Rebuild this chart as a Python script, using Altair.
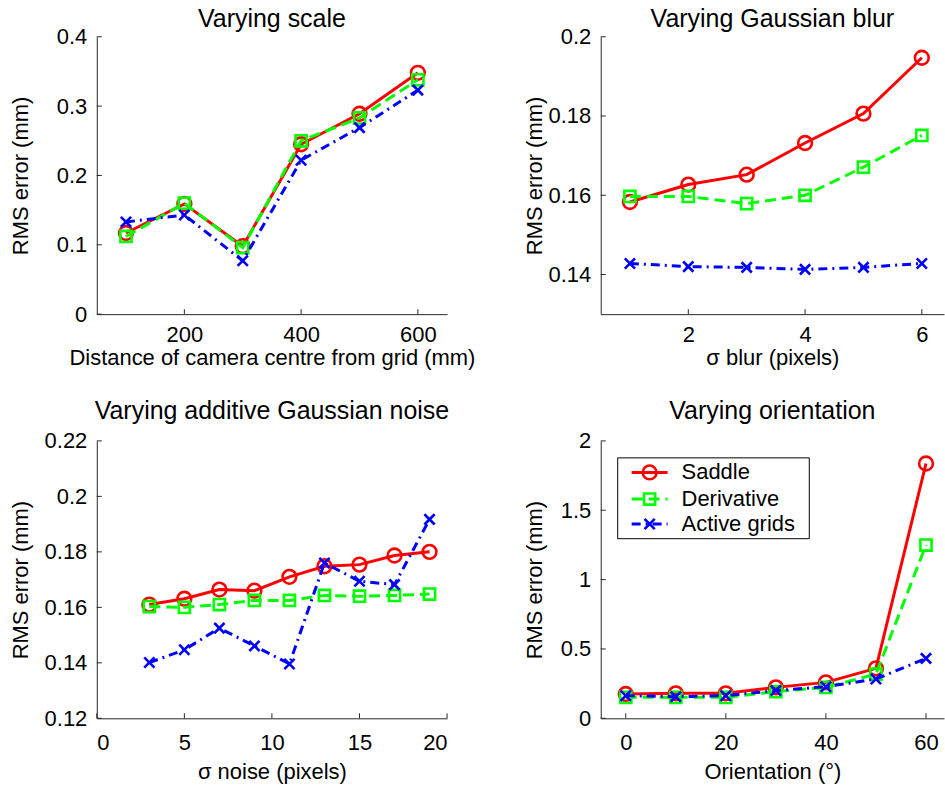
import altair as alt
import pandas as pd

FONT = "Liberation Sans"
AXC = "#262626"

SERIES = ["Saddle", "Derivative", "Active grids"]
COLORS = ["#ff0000", "#00ff00", "#0000ff"]
DASHES = [None, [11, 6], [9, 5, 2, 5]]
X_SHAPE = "M-1,-1L1,1M-1,1L1,-1"
SHAPES = ["circle", "square", X_SHAPE]
SIZES = [190, 125, 105]

# Panel 1: varying scale
scale_x = [100, 200, 300, 400, 500, 600]
scale_saddle = [0.117, 0.159, 0.098, 0.245, 0.289, 0.348]
scale_deriv = [0.112, 0.160, 0.096, 0.250, 0.283, 0.338]
scale_active = [0.133, 0.143, 0.077, 0.222, 0.269, 0.323]

# Panel 2: varying Gaussian blur
blur_x = [1, 2, 3, 4, 5, 6]
blur_saddle = [0.1583, 0.1627, 0.1652, 0.1732, 0.1806, 0.1947]
blur_deriv = [0.1597, 0.1597, 0.1579, 0.1600, 0.1671, 0.1751]
blur_active = [0.1428, 0.1420, 0.1418, 0.1413, 0.1418, 0.1428]

# Panel 3: varying additive Gaussian noise
noise_x = [3, 5, 7, 9, 11, 13, 15, 17, 19]
noise_saddle = [0.1610, 0.1631, 0.1664, 0.1660, 0.1710, 0.1748, 0.1754, 0.1787, 0.1800]
noise_deriv = [0.1603, 0.1600, 0.1610, 0.1625, 0.1625, 0.1643, 0.1640, 0.1643, 0.1648]
noise_active = [0.1401, 0.1447, 0.1525, 0.1461, 0.1396, 0.1760, 0.1694, 0.1682, 0.1917]

# Panel 4: varying orientation
orient_x = [0, 10, 20, 30, 40, 50, 60]
orient_saddle = [0.175, 0.180, 0.180, 0.223, 0.259, 0.360, 1.837]
orient_deriv = [0.151, 0.151, 0.151, 0.192, 0.223, 0.319, 1.249]
orient_active = [0.163, 0.156, 0.163, 0.200, 0.228, 0.283, 0.432]

H = 278
WL = 351
WR = 344
LEGEND_ROWS = [31.6, 58.3, 83.3]
LABEL_EXPR = "'' + datum.value"


def panel(title, xs, ys_list, xdom, xticks, xtitle, ydom, yticks, width, ytitle_x,
          title_offset, xlab_pad, xtitle_pad, legend=False):
    xscale = alt.Scale(domain=xdom, nice=False, zero=False)
    yscale = alt.Scale(domain=ydom, nice=False, zero=False)
    xaxis = alt.Axis(values=xticks, title=xtitle, labelExpr=LABEL_EXPR, ticks=False, grid=False,
                     labelPadding=xlab_pad, titlePadding=xtitle_pad)
    yaxis = alt.Axis(values=yticks, title="RMS error (mm)", labelExpr=LABEL_EXPR, ticks=False, grid=False,
                     labelPadding=10, titleX=ytitle_x, titleBaseline="middle")
    layers = []
    for name, ys, color, dash, shape, size in zip(SERIES, ys_list, COLORS, DASHES, SHAPES, SIZES):
        df = pd.DataFrame({"x": xs, "y": ys, "series": name})
        base = alt.Chart(df).encode(
            x=alt.X("x:Q", scale=xscale, axis=xaxis),
            y=alt.Y("y:Q", scale=yscale, axis=yaxis),
        )
        lkw = dict(color=color, strokeWidth=3)
        if dash:
            lkw["strokeDash"] = dash
        layers.append(base.mark_line(**lkw))
        layers.append(base.mark_point(shape=shape, size=size, color=color, strokeWidth=2.6,
                                      filled=False, opacity=1))
    xt = alt.Chart(pd.DataFrame({"v": xticks})).mark_rule(color=AXC, strokeWidth=1).encode(
        x=alt.X("v:Q", scale=xscale, axis=xaxis), y=alt.value(H), y2=alt.value(H - 5))
    yt = alt.Chart(pd.DataFrame({"v": yticks})).mark_rule(color=AXC, strokeWidth=1).encode(
        y=alt.Y("v:Q", scale=yscale, axis=yaxis), x=alt.value(0), x2=alt.value(5))
    layers = [xt, yt] + layers
    if legend:
        box = alt.Chart(pd.DataFrame({"a": [0]})).mark_rect(
            fill="white", stroke="black", strokeWidth=1).encode(
            x=alt.value(17), x2=alt.value(209), y=alt.value(17), y2=alt.value(98))
        layers.append(box)
        for name, color, dash, shape, size, yr in zip(SERIES, COLORS, DASHES, SHAPES, SIZES, LEGEND_ROWS):
            ldf = pd.DataFrame({"label": [name]})
            rkw = dict(color=color, strokeWidth=3)
            if dash:
                rkw["strokeDash"] = dash
            layers.append(alt.Chart(ldf).mark_rule(**rkw).encode(
                x=alt.value(31), x2=alt.value(67), y=alt.value(yr)))
            layers.append(alt.Chart(ldf).mark_point(shape=shape, size=size, color=color,
                                                    strokeWidth=2.6, filled=False, opacity=1).encode(
                x=alt.value(49), y=alt.value(yr)))
            layers.append(alt.Chart(ldf).mark_text(align="left", baseline="middle", fontSize=22,
                                                   font=FONT, color="black").encode(
                x=alt.value(81), y=alt.value(yr), text="label:N"))
    return alt.layer(*layers).properties(
        width=width, height=H,
        title=alt.TitleParams(text=title, fontSize=25, font=FONT, fontWeight="normal",
                              color="black", frame="group", anchor="middle", offset=title_offset),
    )


p1 = panel("Varying scale", scale_x, [scale_saddle, scale_deriv, scale_active],
           [50, 650], [200, 400, 600], "Distance of camera centre from grid (mm)",
           [0, 0.4], [0, 0.1, 0.2, 0.3, 0.4], WL, -76, -6, 10, 2)
p2 = panel("Varying Gaussian blur", blur_x, [blur_saddle, blur_deriv, blur_active],
           [0.5, 6.38], [2, 4, 6], "σ blur (pixels)",
           [0.13, 0.2], [0.14, 0.16, 0.18, 0.2], WR, -66, -6, 10, 2)
p3 = panel("Varying additive Gaussian noise", noise_x, [noise_saddle, noise_deriv, noise_active],
           [0, 20], [0, 5, 10, 15, 20], "σ noise (pixels)",
           [0.12, 0.22], [0.12, 0.14, 0.16, 0.18, 0.2, 0.22], WL, -76, 6, 14, 8)
p4 = panel("Varying orientation", orient_x, [orient_saddle, orient_deriv, orient_active],
           [-5, 63.6], [0, 20, 40, 60], "Orientation (°)",
           [0, 2], [0, 0.5, 1, 1.5, 2], WR, -66, 6, 14, 8, legend=True)

chart = alt.concat(p1, p2, p3, p4, columns=2,
                   spacing=alt.RowColnumber(row=127, column=154)).properties(
    bounds="flush",
    padding={"left": 9, "top": 5, "right": 0, "bottom": 0},
).configure(background="white").configure_view(stroke="transparent").configure_axis(
    domainColor=AXC, domainWidth=1, labelColor="black", labelFont=FONT, labelFontSize=22,
    titleFont=FONT, titleFontSize=22, titleFontWeight="normal", titleColor="black",
)

chart.save("out.html", embed_options={"renderer": "svg", "actions": False})
